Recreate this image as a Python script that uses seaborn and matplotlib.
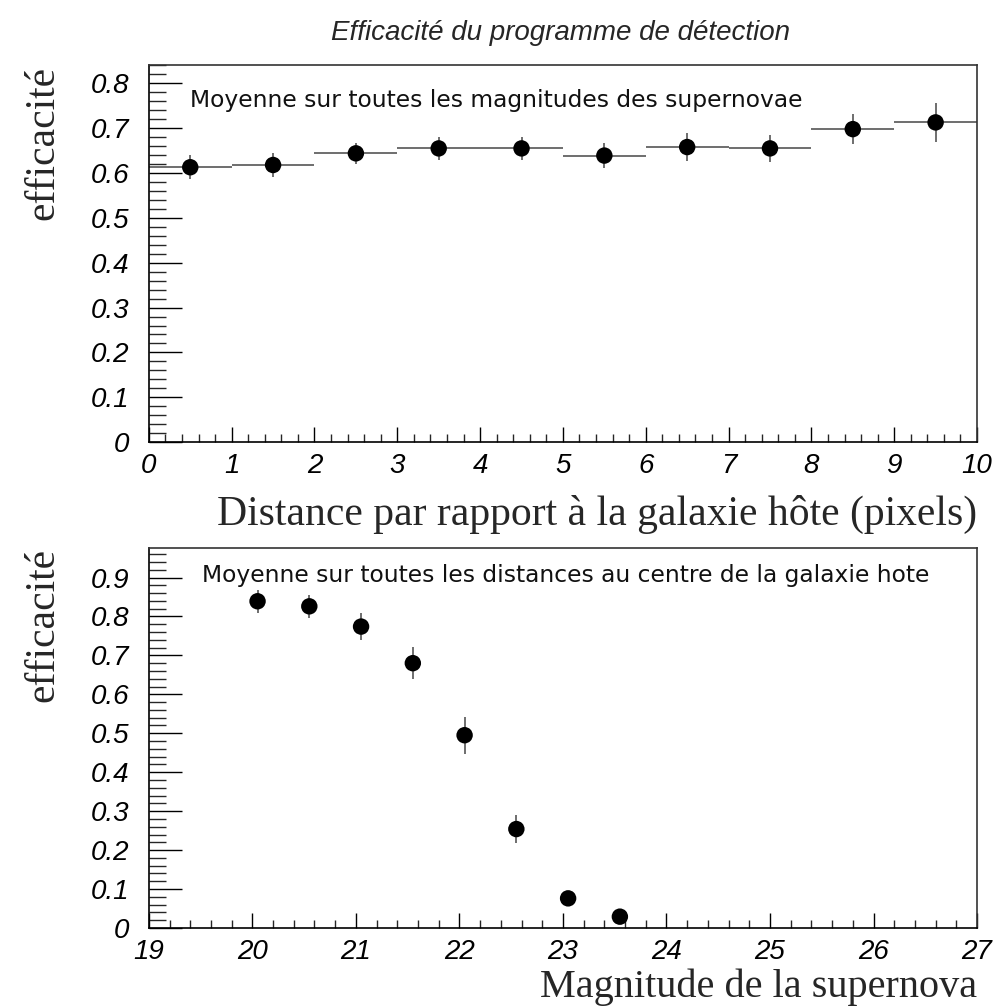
import matplotlib
matplotlib.use("Agg")
import matplotlib.pyplot as plt
import numpy as np
import pandas as pd
import seaborn as sns
from matplotlib.ticker import MultipleLocator, FuncFormatter

# efficacite vs distance to host galaxy (bins of 1 pixel)
dist_centers = [0.5, 1.5, 2.5, 3.5, 4.5, 5.5, 6.5, 7.5, 8.5, 9.5]
dist_eff = [0.613, 0.618, 0.644, 0.655, 0.655, 0.639, 0.658, 0.655, 0.698, 0.713]
dist_err = [0.027, 0.026, 0.024, 0.025, 0.025, 0.028, 0.031, 0.031, 0.034, 0.043]
dist_binwidth = 1.0

# efficacite vs supernova magnitude
mag_centers = [20.05, 20.55, 21.05, 21.55, 22.05, 22.55, 23.05, 23.55]
mag_eff = [0.839, 0.826, 0.774, 0.680, 0.495, 0.254, 0.076, 0.029]
mag_err = [0.030, 0.030, 0.035, 0.041, 0.048, 0.035, 0.012, 0.008]

title = "Efficacité du programme de détection"
ylabel = "efficacité"
xlabel_top = "Distance par rapport à la galaxie hôte (pixels)"
xlabel_bot = "Magnitude de la supernova"
note_top = "Moyenne sur toutes les magnitudes des supernovae"
note_bot = "Moyenne sur toutes les distances au centre de la galaxie hote"

sns.set_style("ticks")
# tick labels: italic helvetica-like
plt.rcParams["font.family"] = ["Liberation Sans", "DejaVu Sans"]
plt.rcParams["font.style"] = "italic"

fig = plt.figure(figsize=(9.99, 10.07), dpi=100)
ax1 = fig.add_axes([0.149, 0.561, 0.829, 0.374])
ax2 = fig.add_axes([0.149, 0.0785, 0.829, 0.377])

df1 = pd.DataFrame({"x": dist_centers, "y": dist_eff, "e": dist_err})
df2 = pd.DataFrame({"x": mag_centers, "y": mag_eff, "e": mag_err})

# histogram-like horizontal bars for the distance bins
ax1.hlines(df1["y"], df1["x"] - dist_binwidth / 2, df1["x"] + dist_binwidth / 2,
           color="#555555", lw=1.2, zorder=2)

for ax, df in [(ax1, df1), (ax2, df2)]:
    ax.vlines(df["x"], df["y"] - df["e"], df["y"] + df["e"], color="#555555", lw=1.2, zorder=2)
    sns.scatterplot(data=df, x="x", y="y", ax=ax, color="black", s=140,
                    edgecolor="none", zorder=3, legend=False)

ax1.set_xlim(0, 10)
ax1.set_ylim(0, 0.84)
ax2.set_xlim(19, 27)
ax2.set_ylim(0, 0.975)

serif = dict(family="Liberation Serif", style="normal")
fmt = FuncFormatter(lambda v, p: "%g" % round(v, 3))

for ax in (ax1, ax2):
    ax.xaxis.set_major_locator(MultipleLocator(1))
    ax.xaxis.set_minor_locator(MultipleLocator(0.2))
    ax.yaxis.set_major_locator(MultipleLocator(0.1))
    ax.yaxis.set_minor_locator(MultipleLocator(0.02))
    ax.xaxis.set_major_formatter(fmt)
    ax.yaxis.set_major_formatter(fmt)
    ax.tick_params(axis="y", which="major", direction="in", length=24, width=1, left=True, right=False,
                   pad=14, labelsize=20, colors="black")
    ax.tick_params(axis="y", which="minor", direction="in", length=12, width=1, left=True, right=False)
    ax.tick_params(axis="x", which="major", direction="in", length=11, width=1, bottom=True, top=False,
                   pad=8, labelsize=20, colors="black")
    ax.tick_params(axis="x", which="minor", direction="in", length=6, width=1, bottom=True, top=False)
    for s in ax.spines.values():
        s.set_color("#333333")
        s.set_linewidth(1.2)
    ax.spines["left"].set_color("black")
    ax.spines["bottom"].set_color("black")
    ax.set_ylabel(ylabel, loc="top", size=30, **serif)
    ax.yaxis.set_label_coords(-0.104, 1.0)

ax1.set_xlabel(xlabel_top, loc="right", size=30, **serif)
ax1.xaxis.set_label_coords(1.0, -0.14)
ax2.set_xlabel(xlabel_bot, loc="right", size=29, **serif)
ax2.xaxis.set_label_coords(1.0, -0.108)

note_font = dict(family="DejaVu Sans", style="normal", fontsize=16.8, color="#111111")
ax1.text(0.05, 0.907, note_top, transform=ax1.transAxes, va="center", ha="left", **note_font)
ax2.text(0.064, 0.929, note_bot, transform=ax2.transAxes, va="center", ha="left", **note_font)

fig.text(0.561, 0.967, title, ha="center", va="center", style="italic", fontsize=20)

fig.savefig("out.png", dpi=100)
